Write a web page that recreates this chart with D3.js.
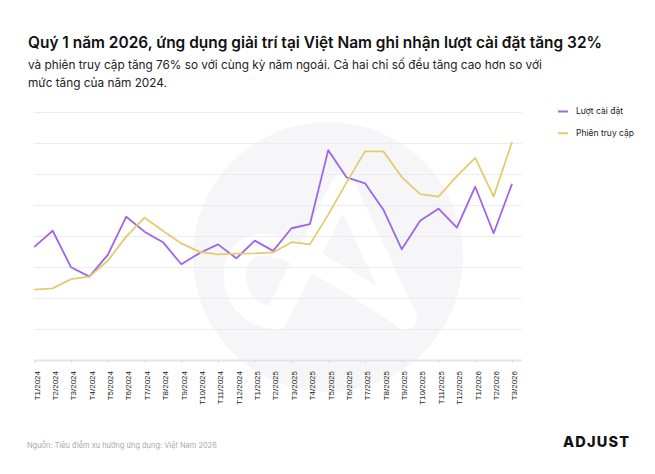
<!DOCTYPE html>
<html><head><meta charset="utf-8">
<script src="https://cdn.jsdelivr.net/npm/d3@7"></script>
<style>
body{margin:0;background:#fff}
svg{display:block;font-family:Inter,"Noto Sans",sans-serif}
</style>
</head><body>
<svg id="c" width="655" height="474"></svg>
<script>
const months = ["T1/2024","T2/2024","T3/2024","T4/2024","T5/2024","T6/2024","T7/2024","T8/2024","T9/2024","T10/2024","T11/2024","T12/2024",
  "T1/2025","T2/2025","T3/2025","T4/2025","T5/2025","T6/2025","T7/2025","T8/2025","T9/2025","T10/2025","T11/2025","T12/2025",
  "T1/2026","T2/2026","T3/2026"];
const installs = [36.5,41.7,29.9,26.9,33.9,46.2,41.4,38.0,30.9,34.5,37.3,32.8,
  38.5,35.2,42.5,43.8,67.7,58.9,57.0,48.5,35.7,44.9,48.8,42.7,55.9,40.9,56.8];
const sessions = [22.7,23.1,26.1,26.9,32.0,39.8,45.9,41.7,37.6,34.9,34.1,34.3,
  34.4,34.7,38.0,37.3,46.9,57.3,67.3,67.3,59.0,53.5,52.7,59.3,65.2,52.7,70.3];
const seriesNames = ["Lượt cài đặt","Phiên truy cập"];
const seriesColors = ["#a064e6","#e4cc6e"];
const yTicks = [10,20,30,40,50,60,70,80];
const titleText = "Quý 1 năm 2026, ứng dụng giải trí tại Việt Nam ghi nhận lượt cài đặt tăng 32%";
const subtitleLines = ["và phiên truy cập tăng 76% so với cùng kỳ năm ngoái. Cả hai chỉ số đều tăng cao hơn so với",
  "mức tăng của năm 2024."];
const sourceText = "Nguồn: Tiêu điểm xu hướng ứng dụng: Việt Nam 2026";
const brandText = "ADJUST";

const svg = d3.select("#c");
svg.append("rect").attr("width",655).attr("height",474).attr("fill","#fff");

function fit(sel, target){
  const w = sel.node().getComputedTextLength();
  const fs = parseFloat(sel.attr("font-size"));
  sel.attr("font-size", (fs*target/w).toFixed(2));
}

// watermark
const wm = svg.append("g");
wm.append("circle").attr("cx",328).attr("cy",257).attr("r",135).attr("fill","#f6f6f8");
wm.append("path").attr("d","M405,318 L343,186 L276,318")
  .attr("fill","none").attr("stroke","#fff").attr("stroke-width",24)
  .attr("stroke-linecap","round").attr("stroke-linejoin","round");
wm.append("path").attr("d","M276,318 C238,318 222,270 246,250 C270,232 320,262 405,318")
  .attr("fill","none").attr("stroke","#fff").attr("stroke-width",22)
  .attr("stroke-linecap","round").attr("stroke-linejoin","round");

// title
const t = svg.append("text").attr("x",28).attr("y",48).attr("font-size",17)
  .attr("font-weight",600).attr("fill","#111").text(titleText);
fit(t, 574);
const s1 = svg.append("text").attr("x",28).attr("y",69).attr("font-size",12.5)
  .attr("fill","#222").text(subtitleLines[0]);
fit(s1, 514);
svg.append("text").attr("x",28).attr("y",87).attr("font-size",s1.attr("font-size"))
  .attr("fill","#222").text(subtitleLines[1]);

// scales
const x = d3.scalePoint().domain(months).range([34.3,512]);
const y = d3.scaleLinear().domain([0,80]).range([360,112]);

// grid
const grid = svg.append("g").attr("transform","translate(34,0)")
  .call(d3.axisLeft(y).tickValues(yTicks).tickSize(-488).tickFormat(""));
grid.select(".domain").remove();
grid.selectAll(".tick line").attr("stroke","#ececee").attr("stroke-width",1);

// x axis
const xa = svg.append("g").attr("transform","translate(0,360)")
  .call(d3.axisBottom(x).tickSize(3).tickPadding(0));
xa.select(".domain").attr("d","M34,0.5H522").attr("stroke","#e3e3ec").attr("stroke-width",2);
xa.selectAll(".tick line").attr("stroke","#dcdce4")
  .attr("opacity",(d,i)=> i%2===0 ? 1 : 0);
xa.selectAll(".tick text")
  .attr("font-size",8).attr("fill","#222")
  .attr("text-anchor","end")
  .attr("transform","rotate(-90)")
  .attr("x",-11).attr("y",2).attr("dy","0.35em");

// lines
const line = d3.line().x((d,i)=>x(months[i])).y(d=>y(d));
[installs, sessions].forEach((vals,k)=>{
  svg.append("path").datum(vals).attr("d",line)
    .attr("fill","none").attr("stroke",seriesColors[k]).attr("stroke-width",1.8)
    .attr("stroke-linejoin","round");
});

// legend
seriesNames.forEach((n,k)=>{
  const yy = 111.5 + k*21.7;
  svg.append("line").attr("x1",558).attr("x2",568).attr("y1",yy).attr("y2",yy)
    .attr("stroke",seriesColors[k]).attr("stroke-width",2);
  svg.append("text").attr("x",576).attr("y",yy).attr("dy","0.35em")
    .attr("font-size",8.5).attr("fill","#222").text(n);
});

// footer
const src = svg.append("text").attr("x",27).attr("y",447.5).attr("font-size",7.5)
  .attr("fill","#a8a8a8").text(sourceText);
fit(src,190);
svg.append("text").attr("x",563).attr("y",447.3).attr("font-size",14.5)
  .attr("font-weight",800).attr("fill","#111")
  .attr("textLength",66).attr("lengthAdjust","spacing").text(brandText);
</script>
</body></html>
